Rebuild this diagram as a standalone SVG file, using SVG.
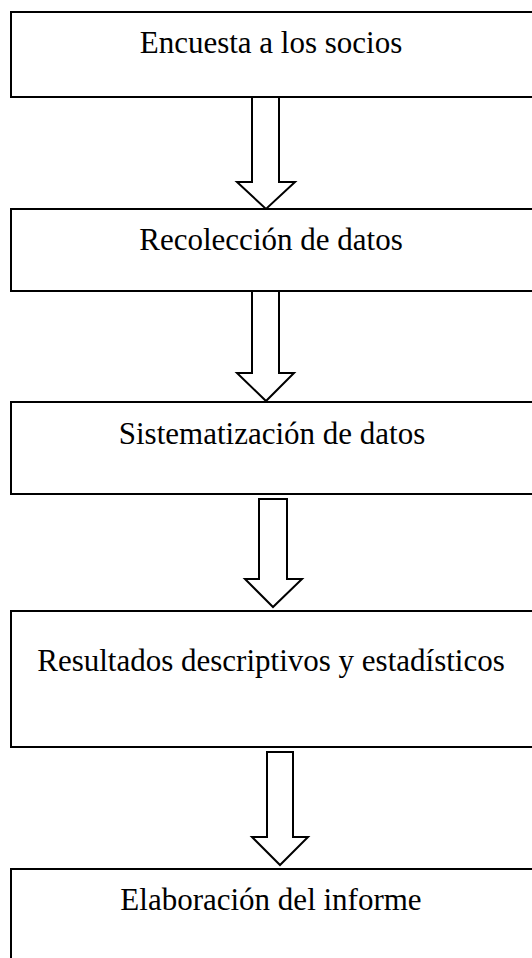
<svg xmlns="http://www.w3.org/2000/svg" width="532" height="958" viewBox="0 0 532 958">
<style>
.box{fill:#fff;stroke:#000;stroke-width:2}
.arr{fill:#fff;stroke:#000;stroke-width:2;stroke-linejoin:miter}
.lbl{font-family:"Liberation Serif","Times New Roman",serif;font-size:31px;fill:#000;text-anchor:middle}
</style>
<rect width="532" height="958" fill="#fff"/>
<g id="connectors">
<polygon class="arr" points="252,97 279,97 279,182 295,182 266,209 237,182 252,182"/>
<polygon class="arr" points="252,291 279,291 279,373 294,373 266,401 237,373 252,373"/>
<polygon class="arr" points="259,499 287,499 287,579 302,579 273,607 245,579 259,579"/>
<polygon class="arr" points="267,752 293,752 293,837 308,837 280,865 252,837 267,837"/>
</g>
<g id="n1"><rect class="box" x="11" y="12" width="530" height="85"/><text class="lbl" x="271" y="53">Encuesta a los socios</text></g>
<g id="n2"><rect class="box" x="11" y="209" width="530" height="82"/><text class="lbl" x="271" y="250">Recolección de datos</text></g>
<g id="n3"><rect class="box" x="11" y="402" width="530" height="92"/><text class="lbl" x="272" y="444">Sistematización de datos</text></g>
<g id="n4"><rect class="box" x="11" y="611" width="530" height="136"/><text class="lbl" x="271" y="671">Resultados descriptivos y estadísticos</text></g>
<g id="n5"><rect class="box" x="11" y="869" width="530" height="100"/><text class="lbl" x="271" y="910">Elaboración del informe</text></g>
</svg>
